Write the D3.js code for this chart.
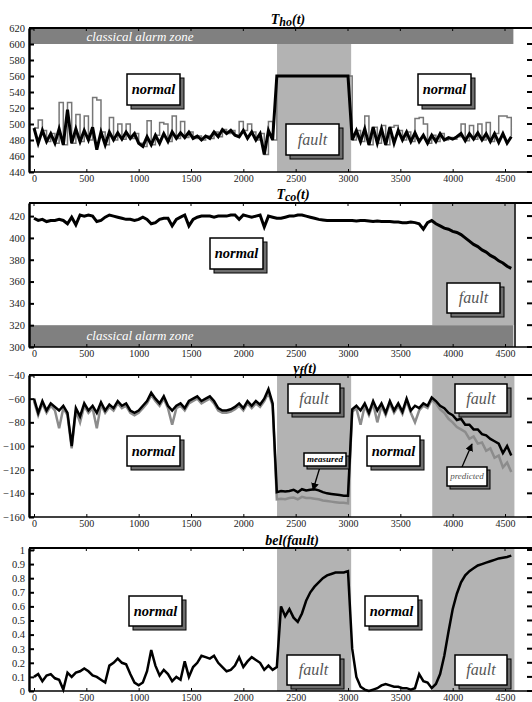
<!DOCTYPE html>
<html>
<head>
<meta charset="utf-8">
<script src="https://cdn.jsdelivr.net/npm/d3@7"></script>
<style>
body { margin: 0; background: #fff; }
text { font-family: "Liberation Serif", "Times New Roman", serif; }
</style>
</head>
<body>
<script>
// sampling of the time axis (every 40 samples)
var tStep = 40;
var times = d3.range(0, 4561, tStep);
var xTicks = [0, 500, 1000, 1500, 2000, 2500, 3000, 3500, 4000, 4500];

var thoTicks = [440, 460, 480, 500, 520, 540, 560, 580, 600, 620];
var tcoTicks = [300, 320, 340, 360, 380, 400, 420];
var yfTicks = [-160, -140, -120, -100, -80, -60, -40];
var belTicks = [0, 0.1, 0.2, 0.3, 0.4, 0.5, 0.6, 0.7, 0.8, 0.9, 1];

var faultSpans = [[2322, 3030], [3805, 4590]];

// Tho(t) measured (black) and the spiky gray trace under it
var thoMeasured = [495, 476, 492, 478, 488, 476, 494, 474, 518, 476,
  494, 478, 492, 480, 496, 468, 490, 474, 490, 480,
  489, 481, 490, 482, 488, 476, 472, 484, 474, 486,
  476, 488, 478, 490, 482, 489, 483, 490, 482, 485,
  480, 485, 482, 490, 484, 493, 488, 492, 486, 484,
  492, 482, 490, 480, 488, 462, 492, 480, 560, 560,
  560, 560, 560, 560, 560, 560, 560, 560, 560, 560,
  560, 560, 560, 560, 560, 560, 480, 492, 478, 494,
  474, 496, 476, 494, 474, 496, 476, 492, 480, 490,
  478, 489, 478, 486, 476, 486, 478, 488, 480, 483,
  481, 484, 488, 479, 488, 481, 489, 480, 488, 478,
  488, 477, 488, 476, 484];
var thoSpikes = [495, 505, 492, 478, 488, 476, 527, 474, 527, 476,
  512, 478, 510, 480, 533, 530, 490, 474, 508, 480,
  500, 481, 500, 482, 488, 476, 472, 504, 474, 486,
  502, 500, 478, 510, 482, 503, 483, 490, 482, 485,
  480, 485, 482, 490, 484, 493, 488, 492, 486, 503,
  492, 500, 490, 480, 488, 462, 503, 480, 560, 560,
  560, 560, 560, 560, 560, 560, 560, 560, 560, 560,
  560, 560, 560, 560, 560, 560, 480, 492, 478, 510,
  474, 496, 476, 498, 474, 496, 498, 492, 480, 490,
  478, 507, 508, 500, 476, 486, 478, 488, 480, 483,
  481, 484, 500, 479, 498, 481, 500, 480, 502, 478,
  488, 510, 510, 508, 484];

// Tco(t)
var tcoValues = [418, 416, 417, 415, 416, 416, 417, 416, 413, 419,
  412, 421, 420, 421, 420, 415, 416, 419, 421, 420,
  419, 418, 417, 417, 416, 417, 419, 417, 413, 414,
  417, 418, 418, 411, 417, 419, 421, 411, 417, 419,
  420, 420, 420, 419, 420, 420, 420, 421, 421, 417,
  421, 420, 419, 420, 421, 410, 420, 419, 418, 418,
  419, 420, 420, 421, 421, 420, 419, 418, 417, 416.5,
  416, 416, 416, 416, 416, 416, 416, 415.5, 416, 416,
  415.5, 415, 415.5, 415, 415, 415, 414.5, 414.5, 414, 414,
  414.5, 414, 413, 408, 414, 416, 413, 411, 409, 408,
  406, 405, 403, 400, 397, 394, 392, 389, 387, 384,
  382, 379, 377, 374, 372];

// yf(t) measured (black) and predicted (gray)
var yfMeasured = [-60, -72, -62, -70, -64, -67, -70, -66, -72, -100,
  -68, -75, -64, -70, -66, -72, -63, -70, -65, -68,
  -62, -66, -64, -70, -72, -70, -66, -62, -55, -60,
  -64, -58, -66, -70, -66, -64, -68, -62, -60, -58,
  -62, -60, -58, -62, -68, -70, -70, -69, -67, -64,
  -68, -62, -66, -62, -65, -60, -52, -64, -139, -138,
  -138.5, -138, -137, -139, -136.5, -137.5, -137, -136.5, -137.5, -139,
  -140, -140.5, -141, -141.5, -142, -142, -69, -66, -70, -64,
  -72, -62, -70, -64, -72, -62, -70, -64, -71, -60,
  -70, -66, -68, -64, -66, -59, -62, -66, -68, -72,
  -74, -78, -77, -82, -82, -86, -86, -90, -91, -94,
  -96, -98, -106, -100, -108];
var yfPredicted = [-62, -74, -64, -72, -66, -70, -85, -68, -74, -102,
  -70, -80, -66, -72, -68, -85, -65, -72, -67, -70,
  -64, -68, -66, -72, -74, -72, -68, -64, -57, -62,
  -66, -60, -68, -82, -68, -66, -70, -64, -62, -60,
  -64, -62, -60, -64, -70, -72, -72, -71, -69, -66,
  -70, -64, -68, -64, -67, -62, -55, -66, -145, -144.5,
  -145, -144, -143.5, -145, -143, -144, -144, -144.5, -145, -146,
  -146.5, -147, -147.5, -148, -148, -148.5, -71, -68, -82, -66,
  -74, -64, -80, -66, -74, -64, -72, -66, -73, -62,
  -72, -80, -70, -66, -68, -61, -64, -69, -72, -77,
  -80, -84, -86, -88, -94, -92, -98, -97, -104, -102,
  -110, -108, -118, -114, -122];

// bel(fault)
var belFault = [0.10, 0.12, 0.07, 0.11, 0.12, 0.09, 0.08, 0.01, 0.13, 0.10,
  0.13, 0.14, 0.16, 0.14, 0.11, 0.10, 0.08, 0.06, 0.18, 0.20,
  0.23, 0.20, 0.19, 0.12, 0.06, 0.04, 0.06, 0.14, 0.29, 0.18,
  0.11, 0.15, 0.12, 0.07, 0.10, 0.08, 0.21, 0.10, 0.17, 0.20,
  0.25, 0.24, 0.23, 0.25, 0.20, 0.17, 0.14, 0.15, 0.18, 0.24,
  0.17, 0.21, 0.24, 0.22, 0.20, 0.15, 0.18, 0.15, 0.17, 0.60,
  0.53, 0.58, 0.52, 0.49, 0.55, 0.64, 0.70, 0.74, 0.77, 0.80,
  0.82, 0.83, 0.84, 0.84, 0.84, 0.85, 0.30, 0.10, 0.03, 0.01,
  0.00, 0.01, 0.02, 0.04, 0.05, 0.04, 0.03, 0.03, 0.02, 0.02,
  0.01, 0.02, 0.12, 0.07, 0.06, 0.02, 0.05, 0.12, 0.25, 0.42,
  0.58, 0.69, 0.77, 0.82, 0.85, 0.87, 0.89, 0.90, 0.91, 0.92,
  0.93, 0.94, 0.945, 0.95, 0.96];

var W = 532, H = 702;
var frameLeft = 29, frameRight = 515;

var svg = d3.select("body").append("svg")
    .attr("width", W)
    .attr("height", H);

var x = d3.scaleLinear().domain([0, 4500]).range([34, 505]);

var panels = [
  {top: 28, bottom: 172, domain: [440, 620], ticks: thoTicks, fmt: d3.format("d"),
   title: ["T", "ho", "(t)"], titleX: 288, titleY: 24,
   alarm: [600, 620], alarmY: 41, faults: [faultSpans[0]], faultTop: 600, rightLine: false,
   series: [{values: thoSpikes, color: "#777", width: 1.5, curve: d3.curveStepAfter},
            {values: thoMeasured, color: "#000", width: 3, curve: d3.curveLinear}]},
  {top: 203, bottom: 347, domain: [300, 432], ticks: tcoTicks, fmt: d3.format("d"),
   title: ["T", "co", "(t)"], titleX: 293, titleY: 199,
   alarm: [300, 320], alarmY: 340, faults: [faultSpans[1]], faultBottom: 320, rightLine: true,
   series: [{values: tcoValues, color: "#000", width: 3, curve: d3.curveLinear}]},
  {top: 375, bottom: 517, domain: [-160, -40], ticks: yfTicks, fmt: d3.format("d"),
   title: ["y", "f", "(t)"], titleX: 305, titleY: 373,
   faults: faultSpans, rightLine: false,
   series: [{values: yfPredicted, color: "#8c8c8c", width: 2.5, curve: d3.curveLinear},
            {values: yfMeasured, color: "#000", width: 2.5, curve: d3.curveLinear}]},
  {top: 548, bottom: 691, domain: [0, 1.014], ticks: belTicks, fmt: d3.format("~g"),
   title: ["bel(fault)", "", ""], titleX: 292, titleY: 545,
   faults: faultSpans, rightLine: false,
   series: [{values: belFault, color: "#000", width: 2.5, curve: d3.curveLinear}]}
];

panels.forEach(function(p) {
    var y = d3.scaleLinear().domain(p.domain).range([p.bottom, p.top]);
    var g = svg.append("g");

    // fault regions
    p.faults.forEach(function(f) {
        var yTop = p.faultTop !== undefined ? y(p.faultTop) : p.top;
        var yBot = p.faultBottom !== undefined ? y(p.faultBottom) : p.bottom;
        g.append("rect")
            .attr("x", x(f[0]))
            .attr("y", yTop)
            .attr("width", x(f[1]) - x(f[0]))
            .attr("height", yBot - yTop)
            .attr("fill", "#b3b3b3");
    });

    // classical alarm zone
    if (p.alarm) {
        g.append("rect")
            .attr("x", frameLeft)
            .attr("y", y(p.alarm[1]))
            .attr("width", x(4580) - frameLeft)
            .attr("height", y(p.alarm[0]) - y(p.alarm[1]))
            .attr("fill", "#808080");
        g.append("text")
            .attr("x", 140)
            .attr("y", p.alarmY)
            .attr("text-anchor", "middle")
            .attr("fill", "#fff")
            .style("font-style", "italic")
            .style("font-size", "13px")
            .text("classical alarm zone");
    }

    // data
    p.series.forEach(function(s) {
        var line = d3.line()
            .x(function(d, i) { return x(times[i]); })
            .y(function(d) { return y(d); })
            .curve(s.curve);
        g.append("path")
            .datum(s.values)
            .attr("d", line)
            .attr("fill", "none")
            .attr("stroke", s.color)
            .attr("stroke-width", s.width)
            .attr("stroke-linejoin", "miter");
    });

    // frame
    g.append("line").attr("x1", frameLeft).attr("x2", W).attr("y1", p.top).attr("y2", p.top)
        .attr("stroke", "#000").attr("stroke-width", 2);
    g.append("line").attr("x1", frameLeft).attr("x2", W).attr("y1", p.bottom).attr("y2", p.bottom)
        .attr("stroke", "#000").attr("stroke-width", 1.5);
    if (p.rightLine) {
        g.append("line").attr("x1", frameRight).attr("x2", frameRight).attr("y1", p.top).attr("y2", p.bottom)
            .attr("stroke", "#000").attr("stroke-width", 1.5);
    }

    // left axis, ticks inward
    var yAxis = g.append("g")
        .attr("transform", "translate(" + frameLeft + ",0)")
        .call(d3.axisLeft(y).tickValues(p.ticks).tickFormat(p.fmt).tickSize(-5).tickSizeOuter(0).tickPadding(4));
    yAxis.select(".domain").attr("stroke-width", 2.5);
    yAxis.selectAll(".tick line").attr("stroke-width", 2);
    yAxis.selectAll("text").style("font-size", "10.5px").attr("fill", "#222");

    // right dashes
    g.selectAll(".rdash").data(p.ticks).enter().append("line")
        .attr("x1", 527).attr("x2", 532)
        .attr("y1", function(d) { return y(d); })
        .attr("y2", function(d) { return y(d); })
        .attr("stroke", "#000").attr("stroke-width", 2);

    // bottom axis
    var xAxis = g.append("g")
        .attr("transform", "translate(0," + p.bottom + ")")
        .call(d3.axisBottom(x).tickValues(xTicks).tickFormat(d3.format("d")).tickSize(-3).tickSizeOuter(0).tickPadding(3));
    xAxis.select(".domain").remove();
    xAxis.selectAll("text").style("font-size", "10px").attr("fill", "#222");

    // top ticks
    g.selectAll(".ttick").data(xTicks).enter().append("line")
        .attr("x1", function(d) { return x(d); })
        .attr("x2", function(d) { return x(d); })
        .attr("y1", p.top).attr("y2", p.top + 3)
        .attr("stroke", "#000").attr("stroke-width", 1);

    // title
    var t = g.append("text")
        .attr("x", p.titleX)
        .attr("y", p.titleY)
        .attr("text-anchor", "middle")
        .style("font-weight", "bold")
        .style("font-style", "italic")
        .style("font-size", "14px");
    t.append("tspan").text(p.title[0]);
    if (p.title[1]) {
        t.append("tspan").attr("dy", 1.5).style("font-size", "12px").text(p.title[1]);
        t.append("tspan").attr("dy", -1.5).text(p.title[2]);
    }
});

// annotation boxes
var boxes = [
  {x: 127, y: 74, w: 53, h: 31, text: "normal"},
  {x: 418, y: 74, w: 53, h: 31, text: "normal"},
  {x: 286, y: 124, w: 53, h: 31, text: "fault"},
  {x: 210, y: 238, w: 53, h: 31, text: "normal"},
  {x: 447, y: 283, w: 53, h: 30, text: "fault"},
  {x: 288, y: 384, w: 52, h: 29, text: "fault"},
  {x: 455, y: 384, w: 52, h: 29, text: "fault"},
  {x: 127, y: 436, w: 53, h: 30, text: "normal"},
  {x: 367, y: 436, w: 53, h: 30, text: "normal"},
  {x: 304, y: 453, w: 42, h: 13, text: "measured", small: true},
  {x: 447, y: 467, w: 40, h: 19, text: "predicted", small: true},
  {x: 129, y: 596, w: 53, h: 30, text: "normal"},
  {x: 365, y: 596, w: 53, h: 30, text: "normal"},
  {x: 287, y: 655, w: 53, h: 30, text: "fault"},
  {x: 455, y: 655, w: 52, h: 30, text: "fault"}
];

svg.append("defs").append("marker")
    .attr("id", "arrow")
    .attr("viewBox", "0 0 10 10")
    .attr("refX", 9).attr("refY", 5)
    .attr("markerWidth", 6).attr("markerHeight", 6)
    .attr("orient", "auto")
    .append("path").attr("d", "M0,0L10,5L0,10z").attr("fill", "#000");

svg.append("line").attr("x1", 320).attr("y1", 467).attr("x2", 313).attr("y2", 490)
    .attr("stroke", "#000").attr("stroke-width", 1.3).attr("marker-end", "url(#arrow)");
svg.append("line").attr("x1", 462).attr("y1", 467).attr("x2", 472).attr("y2", 444)
    .attr("stroke", "#000").attr("stroke-width", 1.3).attr("marker-end", "url(#arrow)");

var bx = svg.selectAll(".box").data(boxes).enter().append("g");
bx.append("rect")
    .attr("x", function(d) { return d.x + (d.small ? 3 : 4); })
    .attr("y", function(d) { return d.y + (d.small ? 3 : 4); })
    .attr("width", function(d) { return d.w; })
    .attr("height", function(d) { return d.h; })
    .attr("fill", "#6e6e6e").attr("stroke", "#000").attr("stroke-width", 1);
bx.append("rect")
    .attr("x", function(d) { return d.x; })
    .attr("y", function(d) { return d.y; })
    .attr("width", function(d) { return d.w; })
    .attr("height", function(d) { return d.h; })
    .attr("fill", "#fff").attr("stroke", "#000").attr("stroke-width", 1.5);
bx.append("text")
    .attr("x", function(d) { return d.x + d.w / 2; })
    .attr("y", function(d) { return d.y + d.h / 2; })
    .attr("dy", "0.33em")
    .attr("text-anchor", "middle")
    .style("font-style", "italic")
    .style("font-weight", function(d) { return d.text === "normal" || d.text === "measured" ? "bold" : "normal"; })
    .style("font-size", function(d) { return d.small ? "9px" : (d.text === "fault" ? "16px" : "14.5px"); })
    .attr("fill", function(d) { return d.text === "fault" || d.text === "predicted" ? "#555" : "#000"; })
    .text(function(d) { return d.text; });
</script>
</body>
</html>
